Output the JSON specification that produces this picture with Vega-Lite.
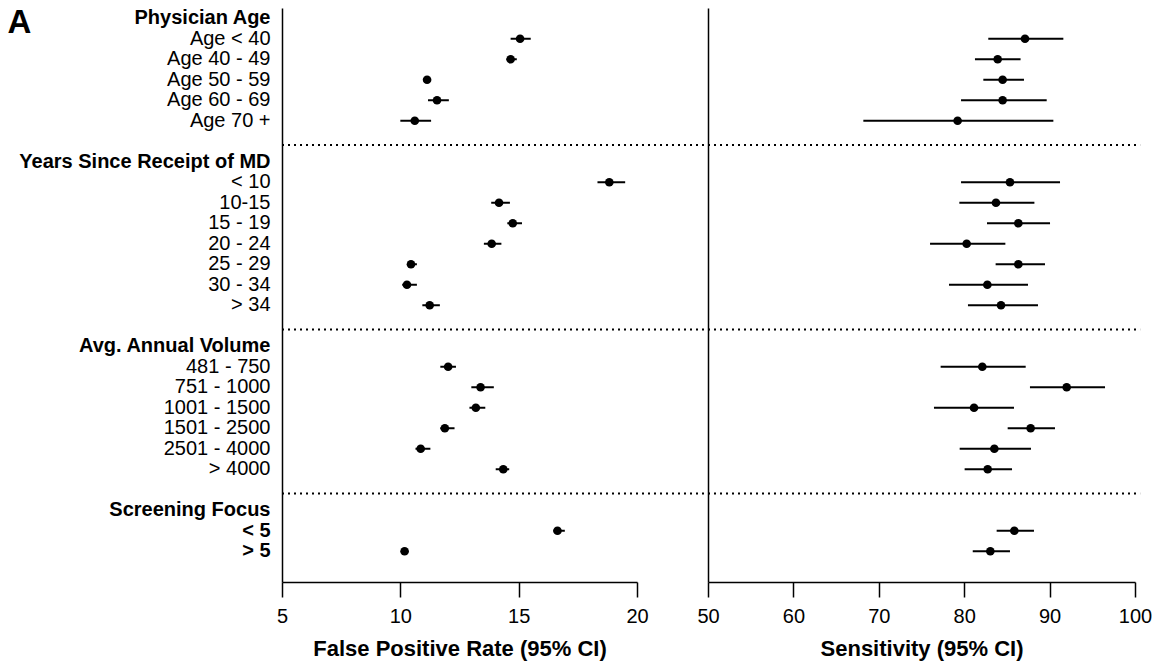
{
  "$schema": "https://vega.github.io/schema/vega-lite/v6.json",
  "background": "white",
  "padding": {"left": 7, "top": 6, "right": 5, "bottom": 5},
  "bounds": "flush",
  "spacing": 71,
  "config": {
    "view": {"stroke": null},
    "font": "Liberation Sans",
    "axis": {"grid": false, "labelColor": "black", "titleColor": "black", "domainColor": "black", "tickColor": "black", "labelFont": "Liberation Sans", "titleFont": "Liberation Sans"}
  },
  "datasets": {
    "items": [
      {"row": "Age < 40", "fpr": 15.06, "fpr_lo": 14.66, "fpr_hi": 15.51, "sens": 87.12, "sens_lo": 82.82, "sens_hi": 91.61},
      {"row": "Age 40 - 49", "fpr": 14.66, "fpr_lo": 14.49, "fpr_hi": 14.92, "sens": 83.92, "sens_lo": 81.26, "sens_hi": 86.6},
      {"row": "Age 50 - 59", "fpr": 11.13, "fpr_lo": 11.0, "fpr_hi": 11.25, "sens": 84.5, "sens_lo": 82.24, "sens_hi": 87.0},
      {"row": "Age 60 - 69", "fpr": 11.55, "fpr_lo": 11.17, "fpr_hi": 12.05, "sens": 84.5, "sens_lo": 79.63, "sens_hi": 89.66},
      {"row": "Age 70 +", "fpr": 10.61, "fpr_lo": 10.0, "fpr_hi": 11.3, "sens": 79.23, "sens_lo": 68.19, "sens_hi": 90.44},
      {"row": "< 10", "fpr": 18.83, "fpr_lo": 18.33, "fpr_hi": 19.5, "sens": 85.36, "sens_lo": 79.63, "sens_hi": 91.22},
      {"row": "10-15", "fpr": 14.17, "fpr_lo": 13.84, "fpr_hi": 14.63, "sens": 83.72, "sens_lo": 79.43, "sens_hi": 88.22},
      {"row": "15 - 19", "fpr": 14.75, "fpr_lo": 14.52, "fpr_hi": 15.14, "sens": 86.34, "sens_lo": 82.67, "sens_hi": 90.05},
      {"row": "20 - 24", "fpr": 13.86, "fpr_lo": 13.53, "fpr_hi": 14.27, "sens": 80.29, "sens_lo": 76.0, "sens_hi": 84.82},
      {"row": "25 - 29", "fpr": 10.45, "fpr_lo": 10.28, "fpr_hi": 10.7, "sens": 86.34, "sens_lo": 83.68, "sens_hi": 89.46},
      {"row": "30 - 34", "fpr": 10.28, "fpr_lo": 10.08, "fpr_hi": 10.7, "sens": 82.71, "sens_lo": 78.22, "sens_hi": 87.47},
      {"row": "> 34", "fpr": 11.24, "fpr_lo": 10.93, "fpr_hi": 11.67, "sens": 84.31, "sens_lo": 80.44, "sens_hi": 88.64},
      {"row": "481 - 750", "fpr": 12.02, "fpr_lo": 11.69, "fpr_hi": 12.35, "sens": 82.12, "sens_lo": 77.24, "sens_hi": 87.2},
      {"row": "751 - 1000", "fpr": 13.39, "fpr_lo": 13.0, "fpr_hi": 13.95, "sens": 92.0, "sens_lo": 87.7, "sens_hi": 96.49},
      {"row": "1001 - 1500", "fpr": 13.19, "fpr_lo": 12.92, "fpr_hi": 13.59, "sens": 81.15, "sens_lo": 76.46, "sens_hi": 85.83},
      {"row": "1501 - 2500", "fpr": 11.88, "fpr_lo": 11.69, "fpr_hi": 12.29, "sens": 87.78, "sens_lo": 85.09, "sens_hi": 90.63},
      {"row": "2501 - 4000", "fpr": 10.86, "fpr_lo": 10.64, "fpr_hi": 11.27, "sens": 83.53, "sens_lo": 79.47, "sens_hi": 87.82},
      {"row": "> 4000", "fpr": 14.35, "fpr_lo": 14.03, "fpr_hi": 14.6, "sens": 82.75, "sens_lo": 80.05, "sens_hi": 85.6},
      {"row": "< 5", "fpr": 16.64, "fpr_lo": 16.47, "fpr_hi": 16.95, "sens": 85.87, "sens_lo": 83.8, "sens_hi": 88.17},
      {"row": "> 5", "fpr": 10.18, "fpr_lo": 10.1, "fpr_hi": 10.27, "sens": 83.06, "sens_lo": 81.0, "sens_hi": 85.36}
    ],
    "gaps": [
      {"row": "gap1", "fpr_start": 5, "fpr_end": 23.05, "sens_start": 50, "sens_end": 100.6},
      {"row": "gap2", "fpr_start": 5, "fpr_end": 23.05, "sens_start": 50, "sens_end": 100.6},
      {"row": "gap3", "fpr_start": 5, "fpr_end": 23.05, "sens_start": 50, "sens_end": 100.6}
    ]
  },
  "hconcat": [
    {
      "width": 355,
      "height": 574,
      "layer": [
        {
          "data": {"name": "items"},
          "mark": {"type": "rule", "color": "black", "strokeWidth": 2},
          "encoding": {
            "y": {"field": "row", "type": "nominal", "bandPosition": 0.5,
              "scale": {"type": "band", "paddingInner": 0, "paddingOuter": 0, "domain": ["Physician Age","Age < 40","Age 40 - 49","Age 50 - 59","Age 60 - 69","Age 70 +","gap1","Years Since Receipt of MD","< 10","10-15","15 - 19","20 - 24","25 - 29","30 - 34","> 34","gap2","Avg. Annual Volume","481 - 750","751 - 1000","1001 - 1500","1501 - 2500","2501 - 4000","> 4000","gap3","Screening Focus","< 5","> 5","end"]},
              "axis": {
                "title": "A", "titleAngle": 0, "titleFontSize": 33, "titleFontWeight": "bold", "titleAlign": "left", "titleBaseline": "alphabetic", "titleX": -275, "titleY": 24,
                "ticks": false, "tickSize": 0, "labelPadding": 12, "labelFontSize": 20, "labelLimit": 500, "labelColor": "black",
                "domainWidth": 1.5,
                "labelExpr": "indexof(['gap1','gap2','gap3','end'], datum.value) >= 0 ? '' : datum.value",
                "labelFontWeight": {"condition": {"test": "indexof(['Physician Age','Years Since Receipt of MD','Avg. Annual Volume','Screening Focus','< 5','> 5'], datum.value) >= 0", "value": "bold"}, "value": "normal"}
              }
            },
            "x": {"field": "fpr_lo", "type": "quantitative", "title": "False Positive Rate (95% CI)",
              "scale": {"domain": [5, 20], "nice": false, "zero": false},
              "axis": {"values": [5, 10, 15, 20], "tickSize": 15, "tickWidth": 1.5, "domainWidth": 1.5, "labelFontSize": 20, "labelPadding": 9, "labelFlush": false, "labelOverlap": false, "titleFontSize": 22, "titleFontWeight": "bold", "titlePadding": 12}
            },
            "x2": {"field": "fpr_hi"}
          }
        },
        {
          "data": {"name": "items"},
          "mark": {"type": "point", "filled": true, "color": "black", "size": 75, "opacity": 1},
          "encoding": {
            "y": {"field": "row", "type": "nominal", "bandPosition": 0.5},
            "x": {"field": "fpr", "type": "quantitative", "title": "False Positive Rate (95% CI)"}
          }
        },
        {
          "data": {"name": "gaps"},
          "mark": {"type": "rule", "color": "black", "strokeWidth": 2, "strokeDash": [2, 4]},
          "encoding": {
            "y": {"field": "row", "type": "nominal", "bandPosition": 0.68},
            "x": {"field": "fpr_start", "type": "quantitative", "title": "False Positive Rate (95% CI)"},
            "x2": {"field": "fpr_end"}
          }
        }
      ]
    },
    {
      "width": 427,
      "height": 574,
      "layer": [
        {
          "data": {"name": "items"},
          "mark": {"type": "rule", "color": "black", "strokeWidth": 2},
          "encoding": {
            "y": {"field": "row", "type": "nominal", "bandPosition": 0.5,
              "scale": {"type": "band", "paddingInner": 0, "paddingOuter": 0, "domain": ["Physician Age","Age < 40","Age 40 - 49","Age 50 - 59","Age 60 - 69","Age 70 +","gap1","Years Since Receipt of MD","< 10","10-15","15 - 19","20 - 24","25 - 29","30 - 34","> 34","gap2","Avg. Annual Volume","481 - 750","751 - 1000","1001 - 1500","1501 - 2500","2501 - 4000","> 4000","gap3","Screening Focus","< 5","> 5","end"]},
              "axis": {"title": null, "labels": false, "ticks": false, "domainWidth": 1.5}
            },
            "x": {"field": "sens_lo", "type": "quantitative", "title": "Sensitivity (95% CI)",
              "scale": {"domain": [50, 100], "nice": false, "zero": false},
              "axis": {"values": [50, 60, 70, 80, 90, 100], "tickSize": 15, "tickWidth": 1.5, "domainWidth": 1.5, "labelFontSize": 20, "labelPadding": 9, "labelFlush": false, "labelOverlap": false, "titleFontSize": 22, "titleFontWeight": "bold", "titlePadding": 12}
            },
            "x2": {"field": "sens_hi"}
          }
        },
        {
          "data": {"name": "items"},
          "mark": {"type": "point", "filled": true, "color": "black", "size": 75, "opacity": 1},
          "encoding": {
            "y": {"field": "row", "type": "nominal", "bandPosition": 0.5},
            "x": {"field": "sens", "type": "quantitative", "title": "Sensitivity (95% CI)"}
          }
        },
        {
          "data": {"name": "gaps"},
          "mark": {"type": "rule", "color": "black", "strokeWidth": 2, "strokeDash": [2, 4]},
          "encoding": {
            "y": {"field": "row", "type": "nominal", "bandPosition": 0.68},
            "x": {"field": "sens_start", "type": "quantitative", "title": "Sensitivity (95% CI)"},
            "x2": {"field": "sens_end"}
          }
        }
      ]
    }
  ]
}
